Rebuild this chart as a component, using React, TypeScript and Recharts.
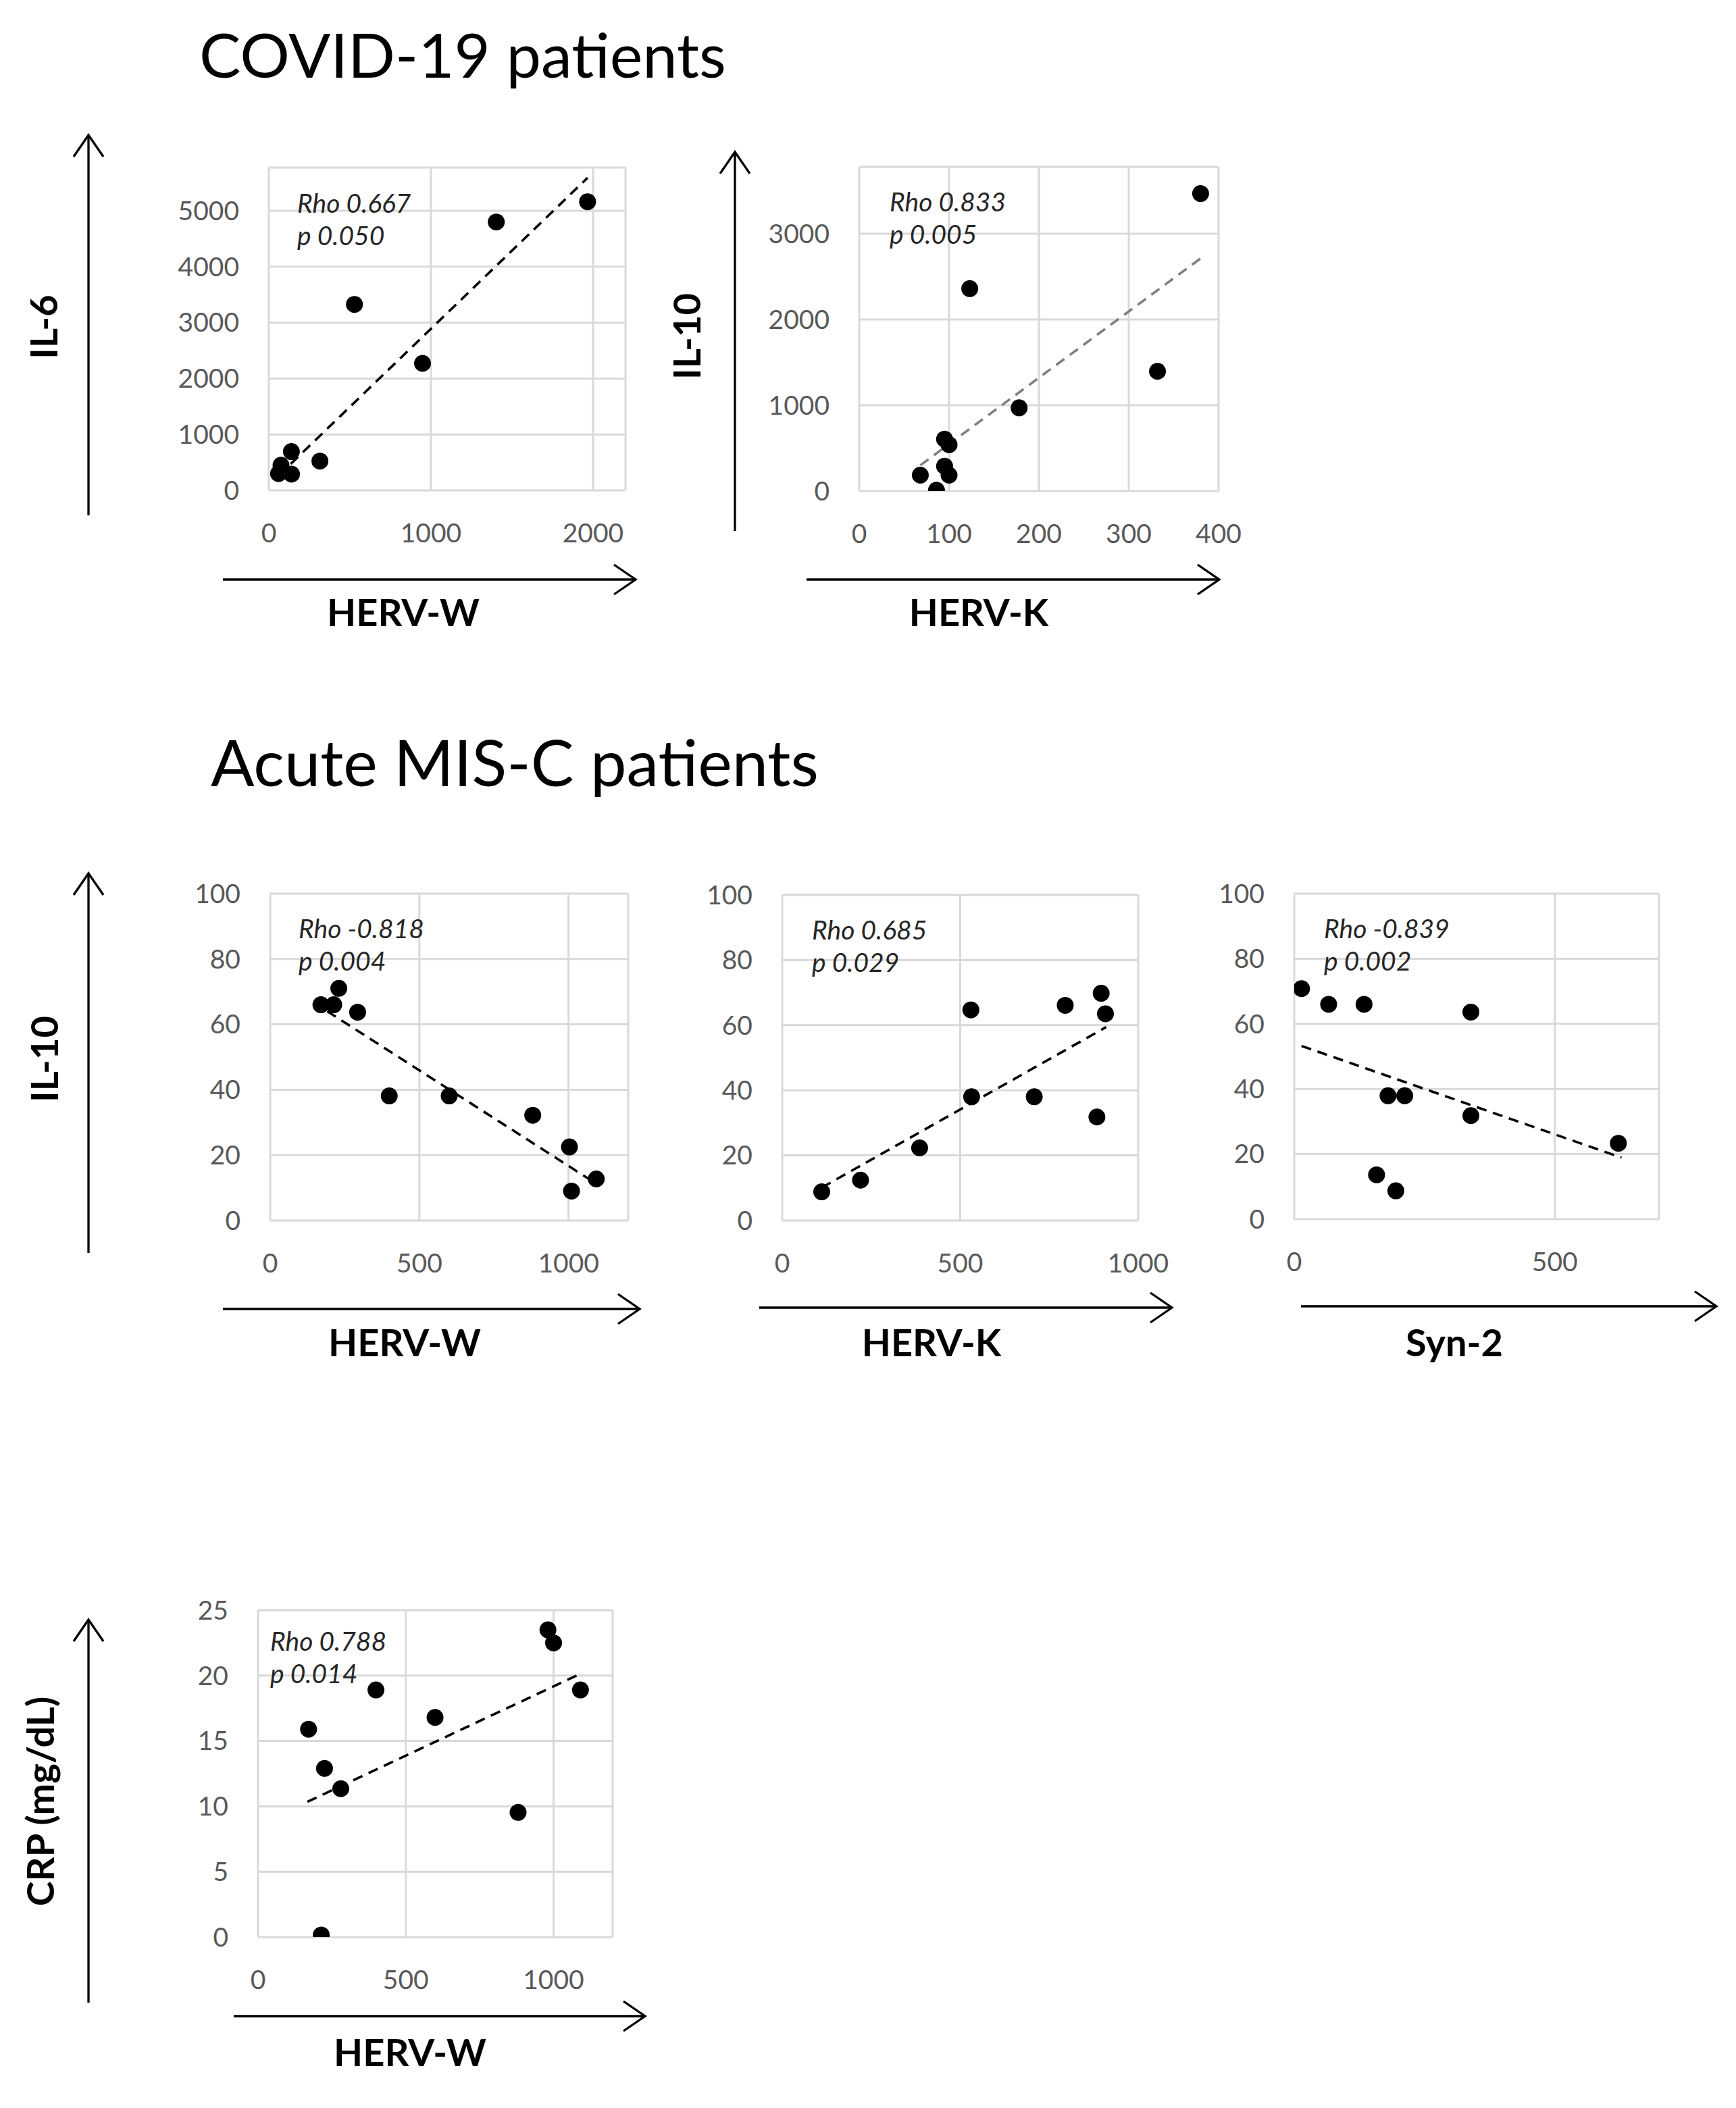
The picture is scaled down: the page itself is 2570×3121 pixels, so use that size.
import React from 'react';
import { ScatterChart, Scatter, XAxis, YAxis, CartesianGrid, ReferenceLine } from 'recharts';

document.body.style.margin = '0';

const FONT = 'Lato, "Open Sans", sans-serif';

// Panel 1: COVID-19, IL-6 vs HERV-W
const covidHervW = [60, 75, 140, 139, 315, 528, 948, 1403, 1966];
const covidIL6 = [300, 450, 290, 694, 523, 3326, 2271, 4800, 5162];
const covidIL6TrendX = [60, 1966];
const covidIL6TrendY = [263, 5590];
const covidIL6XTicks = [0, 1000, 2000];
const covidIL6YTicks = [0, 1000, 2000, 3000, 4000, 5000];

// Panel 2: COVID-19, IL-10 vs HERV-K
const covidHervK = [68, 86, 95, 100, 95, 100, 178, 123, 332, 380];
const covidIL10 = [185, 10, 290, 185, 605, 540, 970, 2360, 1396, 3468];
const covidIL10TrendX = [68, 380];
const covidIL10TrendY = [300, 2712];
const covidIL10XTicks = [0, 100, 200, 300, 400];
const covidIL10YTicks = [0, 1000, 2000, 3000];

// Panel 3: MIS-C, IL-10 vs HERV-W
const miscHervW = [170, 213, 230, 293, 399, 600, 880, 1003, 1010, 1093];
const miscIL10W = [66, 66, 71, 63.7, 38.1, 38.1, 32.2, 22.5, 9, 12.7];
const miscWTrendX = [191, 1075];
const miscWTrendY = [64, 12.3];

// Panel 4: MIS-C, IL-10 vs HERV-K
const miscHervK = [111, 220, 386, 530, 532, 708, 795, 896, 908, 884];
const miscIL10K = [8.8, 12.4, 22.3, 64.7, 38, 38, 66.1, 69.8, 63.5, 31.8];
const miscKTrendX = [111, 910];
const miscKTrendY = [10.1, 59.4];

// Panel 5: MIS-C, IL-10 vs Syn-2
const miscSyn2 = [14, 66, 134, 339, 180, 212, 339, 622, 158, 195];
const miscIL10S = [70.8, 66, 66, 63.6, 37.9, 37.9, 31.8, 23.3, 13.6, 8.7];
const miscSTrendX = [14, 628];
const miscSTrendY = [53.2, 18.9];

// Panel 6: MIS-C, CRP vs HERV-W
const crpHervW = [171, 225, 280, 399, 599, 880, 981, 1000, 1091, 214];
const crpValues = [15.9, 12.9, 11.35, 18.9, 16.8, 9.54, 23.5, 22.5, 18.9, 0.16];
const crpTrendX = [167, 1087];
const crpTrendY = [10.35, 20.1];

const misTicksY = [0, 20, 40, 60, 80, 100];
const crpTicksY = [0, 5, 10, 15, 20, 25];
const ticks1000 = [0, 500, 1000];
const ticks500 = [0, 500];

type PanelProps = {
  xs: number[];
  ys: number[];
  trendX: number[];
  trendY: number[];
  xDomain: [number, number];
  yDomain: [number, number];
  xTicks: number[];
  yTicks: number[];
  left: number;
  top: number;
  width: number;
  height: number;
  trendColor: string;
};

const tickStyle = { fill: '#595959', fontSize: 39, fontFamily: FONT };

function Panel(p: PanelProps) {
  const YW = 200;
  const XH = 120;
  const MT = 30;
  const MR = 60;
  const data = p.xs.map((x, i) => ({ x, y: p.ys[i] }));
  return (
    <div style={{ position: 'absolute', left: p.left - YW, top: p.top - MT }}>
      <ScatterChart
        width={p.width + YW + MR}
        height={p.height + MT + XH}
        margin={{ top: MT, right: MR, bottom: 0, left: 0 }}
      >
        <CartesianGrid stroke="#d9d9d9" strokeWidth={3} />
        <XAxis
          type="number"
          dataKey="x"
          domain={p.xDomain}
          ticks={p.xTicks}
          interval={0}
          allowDataOverflow
          axisLine={false}
          tickLine={false}
          tickSize={0}
          tickMargin={49}
          height={XH}
          tick={tickStyle}
        />
        <YAxis
          type="number"
          dataKey="y"
          domain={p.yDomain}
          ticks={p.yTicks}
          interval={0}
          allowDataOverflow
          axisLine={false}
          tickLine={false}
          tickSize={0}
          tickMargin={44}
          width={YW}
          tick={tickStyle}
        />
        <ReferenceLine
          segment={[
            { x: p.trendX[0], y: p.trendY[0] },
            { x: p.trendX[1], y: p.trendY[1] },
          ]}
          stroke={p.trendColor}
          strokeWidth={3.6}
          strokeDasharray="15 10"
          ifOverflow="visible"
        />
        <Scatter
          data={data}
          isAnimationActive={false}
          shape={(s: any) => <circle cx={s.cx} cy={s.cy} r={12.5} fill="#000" />}
        />
      </ScatterChart>
    </div>
  );
}

function VArrow({ x, y1, y2 }: { x: number; y1: number; y2: number }) {
  return (
    <g stroke="#000" strokeWidth={3.3} fill="none">
      <line x1={x} y1={y2} x2={x} y2={y1} />
      <polyline points={`${x - 22},${y1 + 32} ${x},${y1} ${x + 22},${y1 + 32}`} />
    </g>
  );
}

function HArrow({ x1, x2, y }: { x1: number; x2: number; y: number }) {
  return (
    <g stroke="#000" strokeWidth={3.3} fill="none">
      <line x1={x1} y1={y} x2={x2} y2={y} />
      <polyline points={`${x2 - 32},${y - 22} ${x2},${y} ${x2 - 32},${y + 22}`} />
    </g>
  );
}

function XLabel({ x, y, text }: { x: number; y: number; text: string }) {
  return (
    <text x={x} y={y} textAnchor="middle" fontFamily={FONT} fontWeight={700} fontSize={56} fill="#000">
      {text}
    </text>
  );
}

function YLabel({ x, y, text }: { x: number; y: number; text: string }) {
  return (
    <text
      transform={`translate(${x},${y}) rotate(-90)`}
      textAnchor="middle"
      dy="0.36em"
      fontFamily={FONT}
      fontWeight={700}
      fontSize={56}
      fill="#000"
    >
      {text}
    </text>
  );
}

function Note({ x, y, rho, p }: { x: number; y: number; rho: string; p: string }) {
  return (
    <g fontFamily={FONT} fontStyle="italic" fontSize={39} fill="#262626">
      <text x={x} y={y}>{rho}</text>
      <text x={x} y={y + 48}>{p}</text>
    </g>
  );
}

export default function App() {
  return (
    <div style={{ position: 'relative', width: 2570, height: 3121, background: '#fff', overflow: 'hidden' }}>
      <Panel
        xs={covidHervW} ys={covidIL6} trendX={covidIL6TrendX} trendY={covidIL6TrendY}
        xDomain={[0, 2200]} yDomain={[0, 5774]} xTicks={covidIL6XTicks} yTicks={covidIL6YTicks}
        left={398} top={248} width={528} height={478} trendColor="#000"
      />
      <Panel
        xs={covidHervK} ys={covidIL10} trendX={covidIL10TrendX} trendY={covidIL10TrendY}
        xDomain={[0, 400]} yDomain={[0, 3780]} xTicks={covidIL10XTicks} yTicks={covidIL10YTicks}
        left={1272} top={247} width={532} height={480} trendColor="#7f7f7f"
      />
      <Panel
        xs={miscHervW} ys={miscIL10W} trendX={miscWTrendX} trendY={miscWTrendY}
        xDomain={[0, 1200]} yDomain={[0, 100]} xTicks={ticks1000} yTicks={misTicksY}
        left={400} top={1323} width={530} height={484} trendColor="#000"
      />
      <Panel
        xs={miscHervK} ys={miscIL10K} trendX={miscKTrendX} trendY={miscKTrendY}
        xDomain={[0, 1000]} yDomain={[0, 100]} xTicks={ticks1000} yTicks={misTicksY}
        left={1158} top={1325} width={527} height={482} trendColor="#000"
      />
      <Panel
        xs={miscSyn2} ys={miscIL10S} trendX={miscSTrendX} trendY={miscSTrendY}
        xDomain={[0, 700]} yDomain={[0, 100]} xTicks={ticks500} yTicks={misTicksY}
        left={1916} top={1323} width={540} height={482} trendColor="#000"
      />
      <Panel
        xs={crpHervW} ys={crpValues} trendX={crpTrendX} trendY={crpTrendY}
        xDomain={[0, 1200]} yDomain={[0, 25]} xTicks={ticks1000} yTicks={crpTicksY}
        left={382} top={2384} width={525} height={484} trendColor="#000"
      />
      <svg
        width={2570}
        height={3121}
        style={{ position: 'absolute', left: 0, top: 0, pointerEvents: 'none' }}
      >
        <text x={295} y={115} fontFamily={FONT} fontSize={92} fill="#000">COVID-19 patients</text>
        <text x={312} y={1164} fontFamily={FONT} fontSize={95.5} fill="#000">Acute MIS-C patients</text>

        <VArrow x={131} y1={200} y2={763} />
        <VArrow x={1088} y1={225} y2={786} />
        <VArrow x={131} y1={1293} y2={1855} />
        <VArrow x={131} y1={2398} y2={2965} />

        <HArrow x1={330} x2={941} y={858} />
        <HArrow x1={1194} x2={1805} y={858} />
        <HArrow x1={330} x2={947} y={1938} />
        <HArrow x1={1124} x2={1735} y={1936} />
        <HArrow x1={1926} x2={2541} y={1934} />
        <HArrow x1={346} x2={955} y={2985} />

        <YLabel x={65} y={484} text="IL-6" />
        <YLabel x={1017} y={498} text="IL-10" />
        <YLabel x={66} y={1568} text="IL-10" />
        <YLabel x={60} y={2667} text="CRP (mg/dL)" />

        <XLabel x={597} y={927} text="HERV-W" />
        <XLabel x={1449} y={927} text="HERV-K" />
        <XLabel x={599} y={2008} text="HERV-W" />
        <XLabel x={1379} y={2008} text="HERV-K" />
        <XLabel x={2153} y={2008} text="Syn-2" />
        <XLabel x={607} y={3059} text="HERV-W" />

        <Note x={440} y={315} rho="Rho 0.667" p="p 0.050" />
        <Note x={1317} y={313} rho="Rho 0.833" p="p 0.005" />
        <Note x={442} y={1389} rho="Rho -0.818" p="p 0.004" />
        <Note x={1202} y={1391} rho="Rho 0.685" p="p 0.029" />
        <Note x={1960} y={1389} rho="Rho -0.839" p="p 0.002" />
        <Note x={400} y={2444} rho="Rho 0.788" p="p 0.014" />
      </svg>
    </div>
  );
}
